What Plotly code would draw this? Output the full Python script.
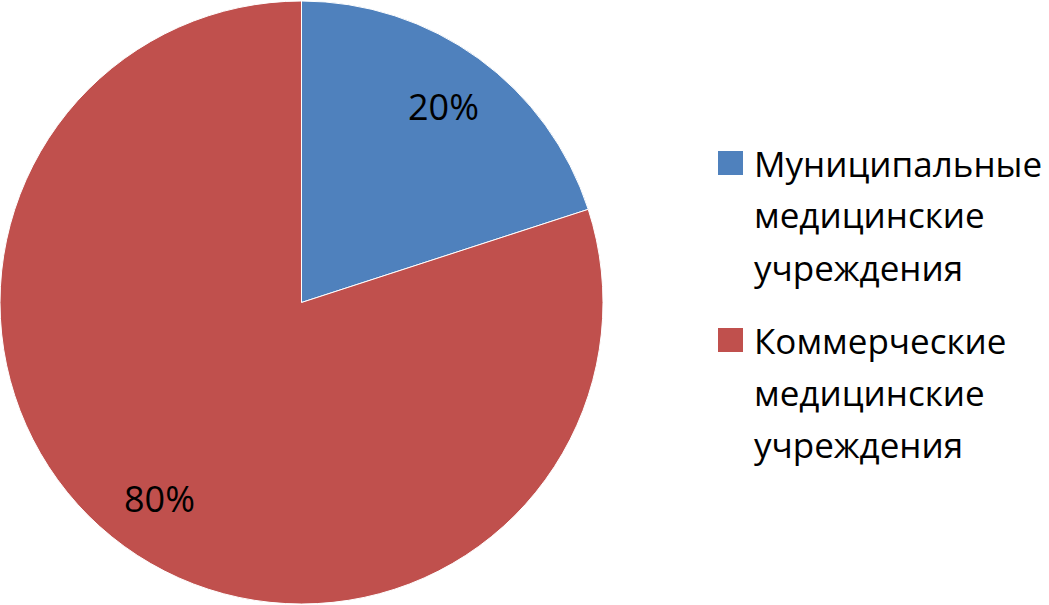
import math
import plotly.graph_objects as go

labels = ["Муниципальные медицинские учреждения", "Коммерческие медицинские учреждения"]
label_lines = [["Муниципальные", "медицинские", "учреждения"],
               ["Коммерческие", "медицинские", "учреждения"]]
values = [20, 80]
colors = ["#4F81BD", "#C0504D"]

W, H = 1049, 605
FONT = "Open Sans"

fig = go.Figure(go.Pie(
    labels=labels, values=values, sort=False, direction="clockwise", rotation=0,
    marker=dict(colors=colors, line=dict(color="white", width=1)),
    textinfo="none", hoverinfo="label+percent", showlegend=False,
    domain=dict(x=[0, 603 / W], y=[0, 1]),
))

# percentage labels placed on slice bisectors
cx, cy, R = 301.5, 302.5, 302.5
total = sum(values)
cum = 0
for v in values:
    mid = (cum + v / 2) / total * 2 * math.pi
    cum += v
    px = cx + 0.8 * R * math.sin(mid)
    py = cy - 0.8 * R * math.cos(mid)
    fig.add_annotation(x=px / W, y=1 - py / H, xref="paper", yref="paper",
                       xanchor="center", yanchor="middle",
                       text=f"{round(v / total * 100)}%", showarrow=False,
                       font=dict(family=FONT, size=36, color="black"))

# legend
y0 = 163
for i, lines in enumerate(label_lines):
    top = y0 + i * 177
    fig.add_shape(type="rect", xref="paper", yref="paper",
                  x0=718 / W, x1=743 / W, y0=1 - (top - 12) / H, y1=1 - (top + 12) / H,
                  fillcolor=colors[i], line=dict(width=0))
    for j, ln in enumerate(lines):
        fig.add_annotation(x=752 / W, y=1 - (top + j * 52) / H, xref="paper", yref="paper",
                           xanchor="left", yanchor="middle", text=ln, showarrow=False,
                           font=dict(family=FONT, size=35, color="black"))

fig.update_layout(width=W, height=H, margin=dict(l=0, r=0, t=0, b=0),
                  paper_bgcolor="white", plot_bgcolor="white")
fig.write_html("out.html", config={"displayModeBar": False},
               post_script="document.body.style.margin='0';")
